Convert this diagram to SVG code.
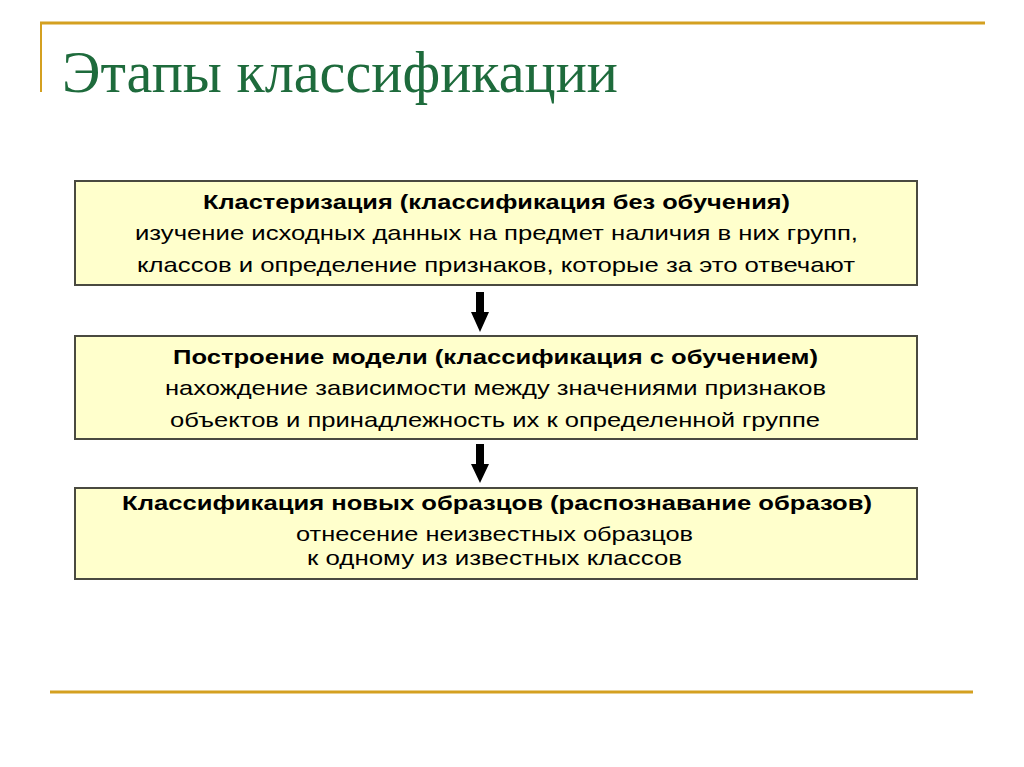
<svg xmlns="http://www.w3.org/2000/svg" width="1024" height="767" viewBox="0 0 1024 767">
<style>
.box{fill:#ffffcc;stroke:#4a4a40;stroke-width:2}
.b{font-weight:bold}
.n{font-family:"Liberation Sans",Arial,sans-serif;font-size:21px;fill:#000}
.rule{stroke:#d4a020;stroke-width:3}
</style>
<rect width="1024" height="767" fill="#ffffff"/>
<g id="frame">
<line class="rule" x1="40" y1="23" x2="985" y2="23"/>
<line x1="41" y1="23" x2="41" y2="92" stroke="#d4a020" stroke-width="2"/>
<line class="rule" x1="50" y1="692" x2="973" y2="692"/>
</g>
<text id="title" x="62" y="92" font-family="Liberation Serif,'Times New Roman',serif" font-size="60" fill="#1e6b3c" textLength="556" lengthAdjust="spacingAndGlyphs">Этапы классификации</text>
<g id="node1">
<rect class="box" x="75" y="181" width="842" height="104"/>
<text class="n b" x="203" y="209" textLength="587" lengthAdjust="spacingAndGlyphs">Кластеризация (классификация без обучения)</text>
<text class="n" x="135" y="240" textLength="723" lengthAdjust="spacingAndGlyphs">изучение исходных данных на предмет наличия в них групп,</text>
<text class="n" x="137" y="272" textLength="718" lengthAdjust="spacingAndGlyphs">классов и определение признаков, которые за это отвечают</text>
</g>
<g id="node2">
<rect class="box" x="75" y="336" width="842" height="103"/>
<text class="n b" x="173" y="364" textLength="645" lengthAdjust="spacingAndGlyphs">Построение модели (классификация с обучением)</text>
<text class="n" x="165" y="395" textLength="661" lengthAdjust="spacingAndGlyphs">нахождение зависимости между значениями признаков</text>
<text class="n" x="170" y="427" textLength="650" lengthAdjust="spacingAndGlyphs">объектов и принадлежность их к определенной группе</text>
</g>
<g id="node3">
<rect class="box" x="75" y="488" width="842" height="91"/>
<text class="n b" x="122" y="510" textLength="750" lengthAdjust="spacingAndGlyphs">Классификация новых образцов (распознавание образов)</text>
<text class="n" x="296" y="541" textLength="397" lengthAdjust="spacingAndGlyphs">отнесение неизвестных образцов</text>
<text class="n" x="307" y="565" textLength="375" lengthAdjust="spacingAndGlyphs">к одному из известных классов</text>
</g>
<g id="connectors" fill="#000">
<polygon points="476,292 484,292 484,312 489,312 480,332 471,312 476,312"/>
<polygon points="476,444 484,444 484,464 489,464 480,483 471,464 476,464"/>
</g>
</svg>
